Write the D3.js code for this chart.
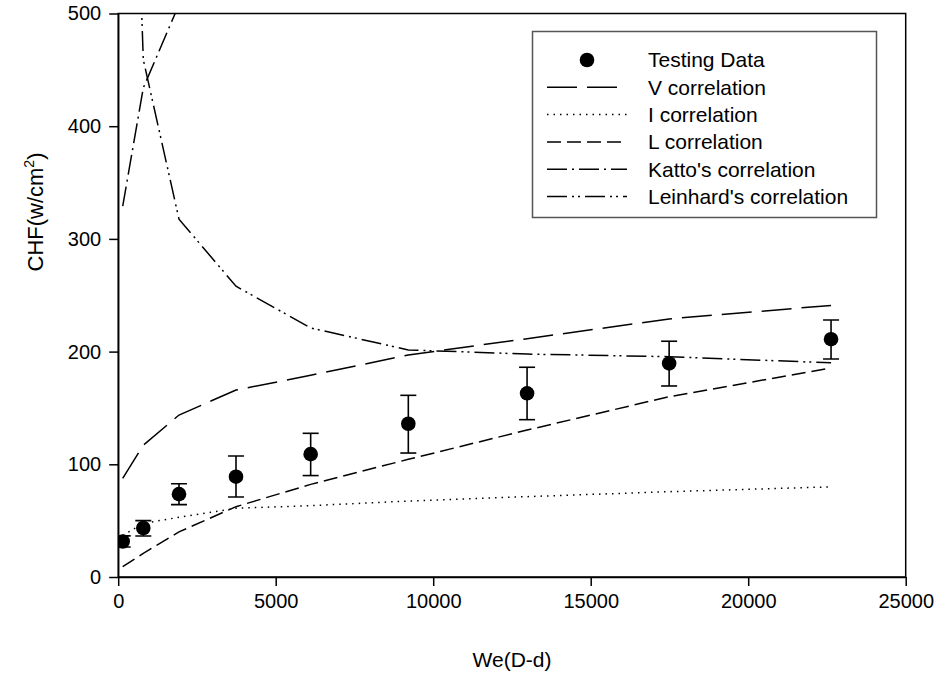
<!DOCTYPE html>
<html>
<head>
<meta charset="utf-8">
<script src="https://cdn.jsdelivr.net/npm/d3@7"></script>
<style>
  html, body { margin: 0; padding: 0; background: #fff; }
  svg { display: block; font-family: Arial, "Liberation Sans", sans-serif; }
</style>
</head>
<body>
<svg id="chart" width="941" height="674"></svg>
<script>
// Weber number (D-d) at which CHF was measured / correlations evaluated
const weValues = [143, 797, 1930, 3740, 6110, 9210, 12980, 17490, 22630];

// Measured CHF (W/cm²) with error bar extents
const chfTest  = [31.5, 43.5, 73.5, 89, 109, 136, 163, 189.5, 211];
const chfUpper = [36.5, 50, 82.8, 107.4, 127.5, 161.2, 186.1, 209.2, 228];
const chfLower = [26.6, 36.4, 64.2, 71, 90, 110, 139.6, 169.5, 193.5];

// Correlation predictions
const vCorr        = [87.5, 117, 143.7, 165.9, 179, 197, 211.5, 229, 241];
const iCorr        = [37, 47.6, 53, 61, 63.3, 67.4, 71.3, 75.7, 80];
const lCorr        = [9.2, 21, 40, 62.4, 82.2, 104.4, 130.4, 160, 185.5];
const kattoCorr    = [329, 434, 508];
const leinhardCorr = [990, 459, 317.5, 258, 221, 201.5, 197.8, 195.5, 190];

const xTicks = [0, 5000, 10000, 15000, 20000, 25000];
const yTicks = [0, 100, 200, 300, 400, 500];

const seriesNames = ["V correlation", "I correlation", "L correlation",
                     "Katto's correlation", "Leinhard's correlation"];
const seriesData  = [vCorr, iCorr, lCorr, kattoCorr, leinhardCorr];
const seriesDash  = ["30,10", "1.5,5", "14,6", "20,5,2,5", "20,5,2,4,2,5"];

const svg = d3.select("#chart");
const plot = { left: 118.2, right: 905.7, top: 13.5, bottom: 577 };

const x = d3.scaleLinear().domain([0, 25000]).range([plot.left, plot.right]);
const y = d3.scaleLinear().domain([0, 500]).range([plot.bottom, plot.top]);

svg.append("defs").append("clipPath").attr("id", "plotClip")
  .append("rect")
  .attr("x", plot.left).attr("y", plot.top)
  .attr("width", plot.right - plot.left).attr("height", plot.bottom - plot.top);

const g = svg.append("g").attr("clip-path", "url(#plotClip)");

// correlation curves
const line = d3.line().x(d => x(d[0])).y(d => y(d[1]));
seriesData.forEach((vals, i) => {
  const pts = vals.map((v, j) => [weValues[j], v]);
  g.append("path")
    .attr("d", line(pts))
    .attr("fill", "none")
    .attr("stroke", "#000")
    .attr("stroke-width", 1.5)
    .attr("stroke-dasharray", seriesDash[i]);
});

// error bars
const cap = 8;
const eb = g.append("g").attr("stroke", "#000").attr("stroke-width", 1.6);
weValues.forEach((w, j) => {
  eb.append("line").attr("x1", x(w)).attr("x2", x(w))
    .attr("y1", y(chfUpper[j])).attr("y2", y(chfLower[j]));
  eb.append("line").attr("x1", x(w) - cap).attr("x2", x(w) + cap)
    .attr("y1", y(chfUpper[j])).attr("y2", y(chfUpper[j]));
  eb.append("line").attr("x1", x(w) - cap).attr("x2", x(w) + cap)
    .attr("y1", y(chfLower[j])).attr("y2", y(chfLower[j]));
});

// data points
g.selectAll("circle.pt").data(weValues).enter().append("circle")
  .attr("class", "pt")
  .attr("cx", d => x(d))
  .attr("cy", (d, j) => y(chfTest[j]))
  .attr("r", 7.3)
  .attr("fill", "#000");

// frame
svg.append("rect")
  .attr("x", plot.left).attr("y", plot.top)
  .attr("width", plot.right - plot.left).attr("height", plot.bottom - plot.top)
  .attr("fill", "none").attr("stroke", "#000").attr("stroke-width", 1.5);

// axes
const tickFont = 20;
const xAxis = svg.append("g")
  .attr("transform", `translate(0,${plot.bottom})`)
  .call(d3.axisBottom(x).tickValues(xTicks).tickFormat(d3.format("d")).tickSizeInner(9).tickSizeOuter(0).tickPadding(8));
const yAxis = svg.append("g")
  .attr("transform", `translate(${plot.left},0)`)
  .call(d3.axisLeft(y).tickValues(yTicks).tickFormat(d3.format("d")).tickSizeInner(9).tickSizeOuter(0).tickPadding(8));
[xAxis, yAxis].forEach(a => {
  a.select(".domain").attr("stroke", "#000").attr("stroke-width", 1.5);
  a.selectAll(".tick line").attr("stroke", "#000").attr("stroke-width", 1.5);
  a.selectAll(".tick text").attr("fill", "#000")
    .style("font-family", "Arial, 'Liberation Sans', sans-serif")
    .style("font-size", tickFont + "px");
});

// axis titles
svg.append("text")
  .attr("x", 512).attr("y", 667)
  .attr("text-anchor", "middle")
  .style("font-size", "21px")
  .text("We(D-d)");

const yTitle = svg.append("text")
  .attr("transform", "translate(43,212) rotate(-90)")
  .attr("text-anchor", "middle")
  .style("font-size", "22px");
yTitle.append("tspan").text("CHF(w/cm");
yTitle.append("tspan").attr("dy", -9).style("font-size", "14px").text("2");
yTitle.append("tspan").attr("dy", 9).text(")");

// legend
const lg = svg.append("g");
lg.append("rect")
  .attr("x", 532.5).attr("y", 31.5).attr("width", 344).attr("height", 186)
  .attr("fill", "#fff").attr("stroke", "#555").attr("stroke-width", 1.5);

const rowY0 = 60, rowStep = 27.3, sx1 = 547, sx2 = 627, tx = 648, legFont = 21;
lg.append("circle").attr("cx", (sx1 + sx2) / 2).attr("cy", rowY0).attr("r", 7.3).attr("fill", "#000");
lg.append("text").attr("x", tx).attr("y", rowY0).attr("dy", "0.35em")
  .style("font-size", legFont + "px").text("Testing Data");
seriesNames.forEach((name, i) => {
  const yy = rowY0 + rowStep * (i + 1);
  lg.append("line").attr("x1", sx1).attr("x2", sx2).attr("y1", yy).attr("y2", yy)
    .attr("stroke", "#000").attr("stroke-width", 1.5)
    .attr("stroke-dasharray", seriesDash[i]);
  lg.append("text").attr("x", tx).attr("y", yy).attr("dy", "0.35em")
    .style("font-size", legFont + "px").text(name);
});
</script>
</body>
</html>
